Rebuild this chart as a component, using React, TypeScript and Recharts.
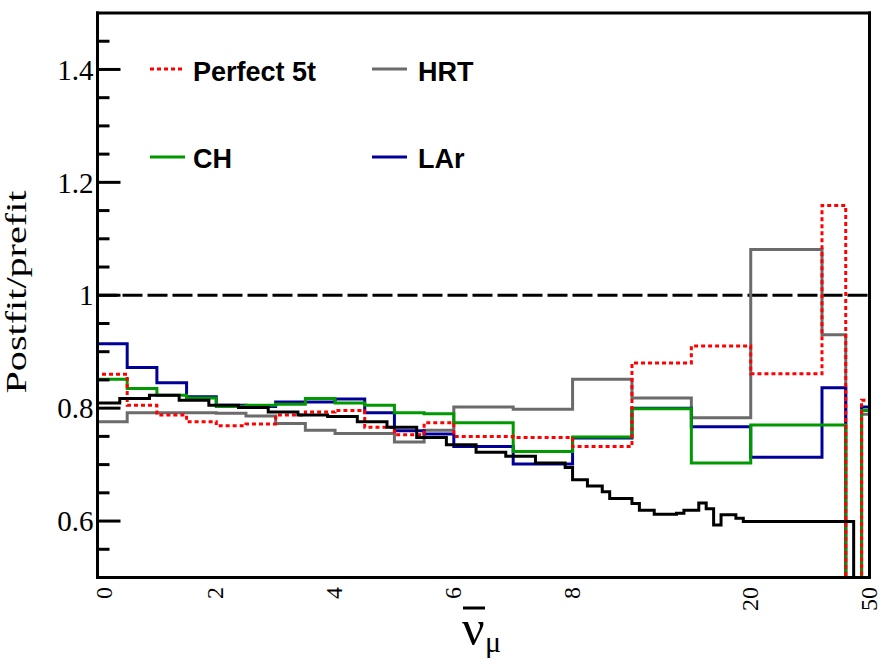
import React from 'react';
import { ComposedChart, Line, XAxis, YAxis, ReferenceLine } from 'recharts';

// x axis: true values and where they sit on the (compressed) axis
const xTickValues = [0, 2, 4, 6, 8, 20, 50];
const axisBreaks = [0, 8, 20, 50];
const axisSlots = [0, 8, 11, 13];

const yTicks = [0.55, 0.6, 0.65, 0.7, 0.75, 0.8, 0.85, 0.9, 0.95, 1, 1.05, 1.1, 1.15, 1.2, 1.25, 1.3, 1.35, 1.4, 1.45];
const yMajor = [0.6, 0.8, 1, 1.2, 1.4];

// coarse binning shared by the four detector curves
const binEdges = [0, 0.5, 1, 1.5, 2, 2.5, 3, 3.5, 4, 4.5, 5, 5.5, 6, 7, 8, 12, 16, 20, 38, 44, 48, 50];
const perfect5t = [0.86, 0.805, 0.788, 0.776, 0.769, 0.772, 0.788, 0.793, 0.796, 0.766, 0.753, 0.774, 0.75, 0.748, 0.732, 0.88, 0.91, 0.861, 1.159, 0, 0.814];
const hrt = [0.776, 0.792, 0.792, 0.792, 0.791, 0.786, 0.773, 0.761, 0.755, 0.755, 0.74, 0.761, 0.802, 0.798, 0.851, 0.818, 0.783, 1.081, 0.93, 0, 0.789];
const ch = [0.851, 0.835, 0.823, 0.818, 0.803, 0.805, 0.807, 0.817, 0.809, 0.805, 0.792, 0.79, 0.774, 0.723, 0.749, 0.799, 0.703, 0.77, 0.77, 0, 0.796];
const lar = [0.914, 0.872, 0.845, 0.82, 0.805, 0.803, 0.811, 0.811, 0.816, 0.792, 0.76, 0.754, 0.732, 0.701, 0.747, 0.8, 0.767, 0.713, 0.836, 0, 0.802];

// finer black curve
const combinedEdges = [0, 0.375, 0.875, 1.375, 1.875, 2.375, 2.875, 3.375, 3.875, 4.375, 4.875, 5.375, 5.875, 6.375, 6.875, 7.375, 7.875, 8, 9, 10, 10.5, 12, 12.5, 13.5, 15, 15.5, 16.5, 17, 17.5, 18, 19, 19.5, 46, 50];
const combined = [0.809, 0.817, 0.823, 0.814, 0.805, 0.801, 0.793, 0.788, 0.785, 0.776, 0.766, 0.748, 0.735, 0.722, 0.715, 0.703, 0.695, 0.673, 0.662, 0.652, 0.64, 0.631, 0.619, 0.612, 0.614, 0.619, 0.632, 0.622, 0.593, 0.611, 0.605, 0.599, 0];

// plot box in page pixels
const PLOT_LEFT = 97.5;
const PLOT_RIGHT = 869.5;
const PLOT_TOP = 13;
const PLOT_BOTTOM = 577.5;

function toAxis(v: number) {
  for (let i = 1; i < axisBreaks.length; i++) {
    if (v <= axisBreaks[i]) {
      const f = (v - axisBreaks[i - 1]) / (axisBreaks[i] - axisBreaks[i - 1]);
      return axisSlots[i - 1] + f * (axisSlots[i] - axisSlots[i - 1]);
    }
  }
  return axisSlots[axisSlots.length - 1];
}

function fromAxis(p: number) {
  return xTickValues.find((t) => Math.abs(toAxis(t) - p) < 1e-6) ?? p;
}

// histogram outline: rises from zero at the first edge, then one step per bin
function steps(edges: number[], values: number[]) {
  const pts = [{ x: toAxis(edges[0]), y: 0 }];
  values.forEach((v, i) => pts.push({ x: toAxis(edges[i]), y: v }));
  pts.push({ x: toAxis(edges[edges.length - 1]), y: values[values.length - 1] });
  return pts;
}

const isMajor = (v: number) => yMajor.some((m) => Math.abs(m - v) < 1e-6);

const serif = '"Liberation Serif", "Times New Roman", serif';
const sans = '"Liberation Sans", Arial, sans-serif';

const LeftTick = (props: any) => {
  const { payload } = props;
  const y = payload.coordinate;
  const major = isMajor(payload.value);
  return (
    <g>
      <line x1={PLOT_LEFT} x2={PLOT_LEFT + (major ? 23 : 12)} y1={y} y2={y} stroke="#000" strokeWidth={3} />
      {major && (
        <text x={PLOT_LEFT - 4} y={y} dy="0.35em" textAnchor="end" fontFamily={serif} fontSize={29} fill="#000">
          {String(Math.round(payload.value * 10) / 10)}
        </text>
      )}
    </g>
  );
};

const RightTick = (props: any) => {
  const { payload } = props;
  const y = payload.coordinate;
  const major = isMajor(payload.value);
  return <line x1={PLOT_RIGHT} x2={PLOT_RIGHT - (major ? 23 : 12)} y1={y} y2={y} stroke="#000" strokeWidth={3} />;
};

const BottomTick = (props: any) => {
  const { payload } = props;
  const x = payload.coordinate;
  const label = fromAxis(payload.value);
  const bx = x + (label === 0 ? 14 : 7);
  return (
    <text
      transform={`translate(${bx}, ${PLOT_BOTTOM + 9.5}) rotate(-90)`}
      textAnchor="end"
      fontFamily={serif}
      fontSize={24}
      fill="#000"
    >
      {String(label)}
    </text>
  );
};

const frame = { stroke: '#000', strokeWidth: 3, strokeLinecap: 'square' as const };

export default function App() {
  return (
    <div style={{ position: 'absolute', left: 0, top: 0, width: 896, height: 672, background: '#fff' }}>
      <ComposedChart
        width={896}
        height={672}
        margin={{ top: PLOT_TOP - 1, right: 896 - PLOT_RIGHT - 1, bottom: 672 - PLOT_BOTTOM - 1, left: PLOT_LEFT - 1 }}
      >
        <XAxis
          type="number"
          dataKey="x"
          domain={[0, 13]}
          ticks={xTickValues.map(toAxis)}
          interval={0}
          allowDataOverflow
          height={1}
          tickSize={0}
          tickMargin={0}
          tickLine={false}
          tick={<BottomTick />}
          axisLine={frame}
        />
        <XAxis xAxisId="top" orientation="top" type="number" domain={[0, 13]} height={1} tick={false} tickLine={false} axisLine={frame} />
        <YAxis
          type="number"
          domain={[0.5, 1.5]}
          ticks={yTicks}
          interval={0}
          allowDataOverflow
          width={1}
          tickSize={0}
          tickMargin={0}
          tickLine={false}
          tick={<LeftTick />}
          axisLine={frame}
        />
        <YAxis
          yAxisId="right"
          orientation="right"
          type="number"
          domain={[0.5, 1.5]}
          ticks={yTicks}
          interval={0}
          width={1}
          tickSize={0}
          tickMargin={0}
          tickLine={false}
          tick={<RightTick />}
          axisLine={frame}
        />
        <ReferenceLine y={1} stroke="#000" strokeWidth={3} strokeDasharray="20 5" />
        <Line data={steps(binEdges, hrt)} dataKey="y" type="stepAfter" stroke="#6b6b6b" strokeWidth={3} dot={false} isAnimationActive={false} />
        <Line data={steps(binEdges, lar)} dataKey="y" type="stepAfter" stroke="#000099" strokeWidth={3} dot={false} isAnimationActive={false} />
        <Line data={steps(binEdges, ch)} dataKey="y" type="stepAfter" stroke="#009900" strokeWidth={3} dot={false} isAnimationActive={false} />
        <Line data={steps(binEdges, perfect5t)} dataKey="y" type="stepAfter" stroke="#ff0000" strokeWidth={3} strokeDasharray="4 3" dot={false} isAnimationActive={false} />
        <Line data={steps(combinedEdges, combined)} dataKey="y" type="stepAfter" stroke="#000" strokeWidth={3} dot={false} isAnimationActive={false} />
      </ComposedChart>
      <svg width={896} height={672} style={{ position: 'absolute', left: 0, top: 0, pointerEvents: 'none' }}>
        <line x1={150} x2={184} y1={69} y2={69} stroke="#ff0000" strokeWidth={3} strokeDasharray="4 3" />
        <text x={193} y={81} fontFamily={sans} fontWeight="bold" fontSize={27}>Perfect 5t</text>
        <line x1={372} x2={407} y1={69} y2={69} stroke="#6b6b6b" strokeWidth={3} />
        <text x={418} y={81} fontFamily={sans} fontWeight="bold" fontSize={27}>HRT</text>
        <line x1={150} x2={185} y1={157} y2={157} stroke="#009900" strokeWidth={3} />
        <text x={193} y={168} fontFamily={sans} fontWeight="bold" fontSize={27}>CH</text>
        <line x1={372} x2={407} y1={157} y2={157} stroke="#000099" strokeWidth={3} />
        <text x={418} y={168} fontFamily={sans} fontWeight="bold" fontSize={27}>LAr</text>

        <text
          transform="translate(26, 292) rotate(-90)"
          textAnchor="middle"
          fontFamily={serif}
          fontSize={30}
          textLength={203}
          lengthAdjust="spacingAndGlyphs"
        >
          Postfit/prefit
        </text>

        <line x1={463} x2={485} y1={608} y2={608} stroke="#000" strokeWidth={3} />
        <text x={462} y={645} fontFamily={serif} fontSize={50}>ν</text>
        <text x={485} y={652} fontFamily={serif} fontSize={30}>μ</text>
      </svg>
    </div>
  );
}
